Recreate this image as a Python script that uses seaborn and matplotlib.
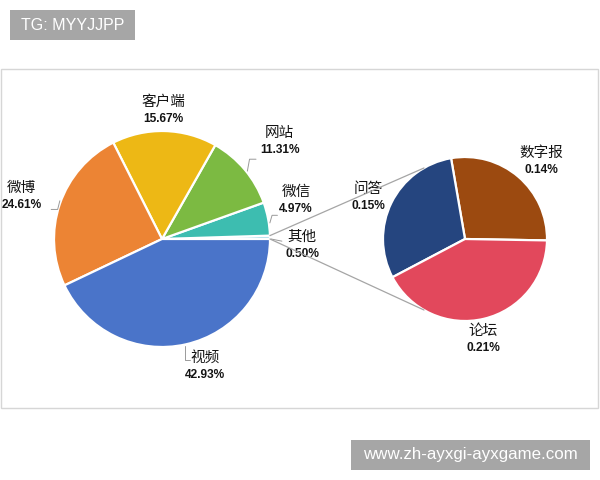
import numpy as np
import matplotlib
matplotlib.use("Agg")
import matplotlib.pyplot as plt
import seaborn as sns
from matplotlib.patches import Rectangle, ConnectionPatch

# ---- data ----
main_labels = ["其他", "微信", "网站", "客户端", "微博", "视频"]
main_values = [0.50, 4.97, 11.31, 15.67, 24.61, 42.93]
main_colors = ["#A8DDEA", "#3DBDB0", "#7CBA42", "#EDB815", "#EC8434", "#4A74C9"]

sub_labels = ["数字报", "问答", "论坛"]
sub_values = [0.14, 0.15, 0.21]
sub_colors = ["#9C4A10", "#25457F", "#E2485C"]

sns.set_theme(style="white")
plt.rcParams['font.family'] = ['Noto Sans CJK SC', 'DejaVu Sans']

W, H = 600, 480
fig = plt.figure(figsize=(6, 4.8), dpi=100)
fig.patch.set_facecolor('white')


def box(cx, cy, r):
    return [(cx - r) / W, 1 - (cy + r) / H, 2 * r / W, 2 * r / H]


# chart frame
fig.add_artist(Rectangle((1 / W, 1 - 408 / H), 597 / W, 339 / H, transform=fig.transFigure,
                         facecolor='white', edgecolor='#D6D6D6', lw=1.0, zorder=0))

ax1 = fig.add_axes(box(162, 239, 108))
ax2 = fig.add_axes(box(465, 239, 82))

w1, _ = ax1.pie(main_values, colors=main_colors, startangle=0, counterclock=True,
                wedgeprops=dict(edgecolor='white', linewidth=1.6))
w2, _ = ax2.pie(sub_values, colors=sub_colors, startangle=-1, counterclock=True,
                wedgeprops=dict(edgecolor='white', linewidth=1.6))
for ax in (ax1, ax2):
    ax.set_xlim(-1, 1)
    ax.set_ylim(-1, 1)
    ax.axis('off')
    ax.patch.set_alpha(0)

# label positions (in radius units)
main_pos = {"客户端": (0.01, 1.19), "网站": (1.09, 0.90), "微信": (1.24, 0.36),
            "其他": (1.30, -0.06), "微博": (-1.30, 0.39), "视频": (0.40, -1.18)}
sub_pos = {"数字报": (0.93, 0.95), "问答": (-1.18, 0.51), "论坛": (0.22, -1.23)}

cjk = ['Noto Sans CJK SC', 'DejaVu Sans']


def put_label(ax, name, val, xy):
    ax.annotate(name, xy=xy, xytext=(0, 8.5), textcoords='offset pixels',
                ha='center', va='center', fontsize=10.5, family=cjk, color='#141414',
                annotation_clip=False)
    ax.annotate(f"{val:.2f}%", xy=xy, xytext=(0, -8.5), textcoords='offset pixels',
                ha='center', va='center', fontsize=8.6, family='Liberation Sans',
                fontweight='bold', color='#141414', annotation_clip=False)


for n, v in zip(main_labels, main_values):
    put_label(ax1, n, v, main_pos[n])
for n, v in zip(sub_labels, sub_values):
    put_label(ax2, n, v, sub_pos[n])

# small leader lines: rim angle, first step, second step (radius units)
leaders = [(38.5, (0.02, 0.11), (0.06, 0.0)),
           (8.5, (0.02, 0.07), (0.05, 0.0)),
           (0.0, (0.10, -0.02), (0.0, 0.0)),
           (159.5, (-0.02, -0.08), (-0.06, 0.0)),
           (-78.0, (0.0, -0.13), (0.05, 0.0))]
for ang, s1, s2 in leaders:
    a = np.deg2rad(ang)
    p0 = np.array([np.cos(a), np.sin(a)]) * 1.01
    p1 = p0 + np.array(s1)
    p2 = p1 + np.array(s2)
    ax1.plot([p0[0], p1[0], p2[0]], [p0[1], p1[1], p2[1]], color='#9a9a9a', lw=0.7,
             clip_on=False)

# connection lines from the 其他 wedge to the second pie
other = w1[0]
for th1, th2 in ((other.theta2, 120), (other.theta1, 240)):
    a1, a2 = np.deg2rad(th1), np.deg2rad(th2)
    con = ConnectionPatch(xyA=(np.cos(a1), np.sin(a1)), coordsA=ax1.transData,
                          xyB=(np.cos(a2), np.sin(a2)), coordsB=ax2.transData,
                          color='#A5A5A5', lw=0.9, zorder=5)
    fig.add_artist(con)

# watermarks
fig.add_artist(Rectangle((10 / W, 1 - 40 / H), 125 / W, 30 / H, transform=fig.transFigure,
                         facecolor='#A6A6A6', edgecolor='none'))
fig.text(72.5 / W, 1 - 25 / H, "TG: MYYJJPP", ha='center', va='center', color='white',
         fontsize=11.5, family='Liberation Sans')
fig.add_artist(Rectangle((351 / W, 1 - 470 / H), 239 / W, 30 / H, transform=fig.transFigure,
                         facecolor='#A6A6A6', edgecolor='none'))
fig.text(470.5 / W, 1 - 455 / H, "www.zh-ayxgi-ayxgame.com", ha='center', va='center',
         color='white', fontsize=12.2, family='Liberation Sans')

fig.savefig("out.png", dpi=100, facecolor='white')
